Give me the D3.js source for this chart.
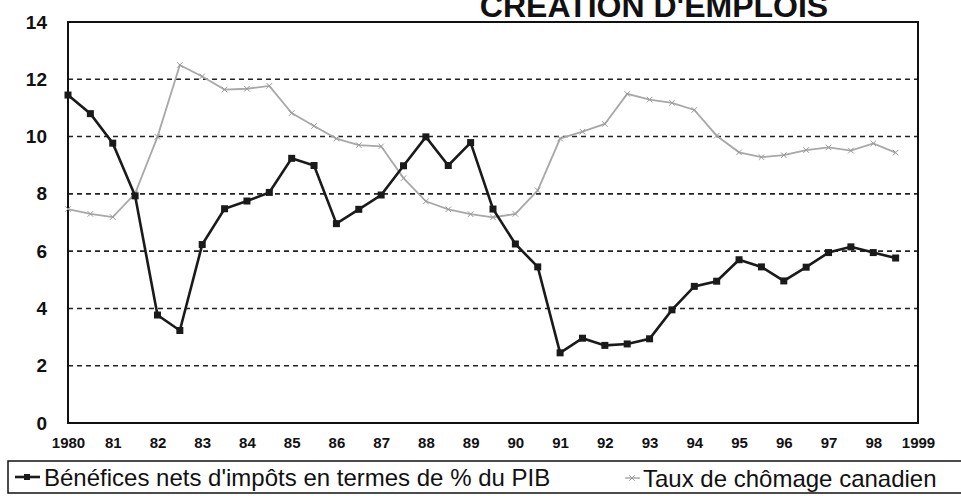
<!DOCTYPE html>
<html>
<head>
<meta charset="utf-8">
<script src="https://cdn.jsdelivr.net/npm/d3@7"></script>
<style>
  body { margin: 0; background: #fff; }
  svg { display: block; font-family: "Liberation Sans", Arial, sans-serif; }
</style>
</head>
<body>
<svg id="chart" width="961" height="496"></svg>
<script>
// half-year points, 1980 to 1998.5
const periods = d3.range(38).map(i => 1980 + i * 0.5);

const benefices = [11.45, 10.8, 9.77, 7.93, 3.77, 3.23, 6.23, 7.48, 7.75, 8.05,
                   9.24, 8.99, 6.96, 7.46, 7.96, 8.98, 9.99, 8.99, 9.79, 7.47,
                   6.25, 5.45, 2.45, 2.96, 2.71, 2.76, 2.94, 3.95, 4.77, 4.95,
                   5.7, 5.45, 4.96, 5.44, 5.95, 6.15, 5.95, 5.76];

const chomage = [7.47, 7.3, 7.19, 8.01, 9.99, 12.5, 12.1, 11.64, 11.67, 11.77,
                 10.82, 10.37, 9.93, 9.7, 9.66, 8.55, 7.74, 7.46, 7.29, 7.18,
                 7.3, 8.12, 9.93, 10.17, 10.44, 11.49, 11.29, 11.18, 10.93, 10.03,
                 9.45, 9.28, 9.35, 9.53, 9.62, 9.51, 9.76, 9.44];

const yearTicks = d3.range(1980, 2000);
const yearLabels = ["1980", "81", "82", "83", "84", "85", "86", "87", "88", "89",
                    "90", "91", "92", "93", "94", "95", "96", "97", "98", "1999"];
const yTicks = [0, 2, 4, 6, 8, 10, 12, 14];

const title = "CRÉATION D'EMPLOIS";
const legendLabels = ["Bénéfices nets d'impôts en termes de % du PIB", "Taux de chômage canadien"];

const svg = d3.select("#chart");
const plotLeft = 68, plotRight = 918, plotTop = 22, plotBottom = 423;

const x = d3.scaleLinear().domain([1980, 1999]).range([plotLeft, plotRight]);
const y = d3.scaleLinear().domain([0, 14]).range([plotBottom, plotTop]);

// title, its top is cut by the page edge like in the scan
svg.append("text")
   .attr("x", 654).attr("y", 17)
   .attr("text-anchor", "middle")
   .attr("font-size", 32).attr("font-weight", "bold")
   .attr("fill", "#111")
   .text(title);

// dashed gridlines
svg.append("g")
   .selectAll("line")
   .data(yTicks.filter(d => d > 0 && d < 14))
   .enter()
   .append("line")
   .attr("x1", plotLeft).attr("x2", plotRight)
   .attr("y1", d => y(d)).attr("y2", d => y(d))
   .attr("stroke", "#222")
   .attr("stroke-width", 1.6)
   .attr("stroke-dasharray", "5,4");

// frame
svg.append("rect")
   .attr("x", plotLeft).attr("y", plotTop)
   .attr("width", plotRight - plotLeft).attr("height", plotBottom - plotTop)
   .attr("fill", "none")
   .attr("stroke", "#111")
   .attr("stroke-width", 2);

// y axis labels
const yAxis = d3.axisLeft(y).tickValues(yTicks).tickSize(0).tickPadding(21);
svg.append("g")
   .attr("transform", `translate(${plotLeft}, 0)`)
   .call(yAxis)
   .call(g => g.select(".domain").remove())
   .call(g => g.selectAll("text")
               .attr("font-family", "'Liberation Sans', Arial, sans-serif")
               .attr("font-size", 19).attr("font-weight", "bold").attr("fill", "#111"));

// x axis labels
const xAxis = d3.axisBottom(x).tickValues(yearTicks).tickSize(0).tickPadding(14)
                .tickFormat((d, i) => yearLabels[i]);
svg.append("g")
   .attr("transform", `translate(0, ${plotBottom})`)
   .call(xAxis)
   .call(g => g.select(".domain").remove())
   .call(g => g.selectAll("text")
               .attr("font-family", "'Liberation Sans', Arial, sans-serif")
               .attr("font-size", 15).attr("font-weight", "bold").attr("fill", "#111"));

// unemployment line (grey, x markers)
const line = d3.line().x((d, i) => x(periods[i])).y(d => y(d));

svg.append("path")
   .datum(chomage)
   .attr("d", line)
   .attr("fill", "none")
   .attr("stroke", "#a8a8a8")
   .attr("stroke-width", 1.8);

const cross = d3.symbol().type(d3.symbolX).size(22);
svg.append("g")
   .selectAll("path")
   .data(chomage)
   .enter()
   .append("path")
   .attr("d", cross)
   .attr("transform", (d, i) => `translate(${x(periods[i])}, ${y(d)})`)
   .attr("fill", "none")
   .attr("stroke", "#999")
   .attr("stroke-width", 1);

// profits line (black, square markers)
svg.append("path")
   .datum(benefices)
   .attr("d", line)
   .attr("fill", "none")
   .attr("stroke", "#1a1a1a")
   .attr("stroke-width", 2.6);

svg.append("g")
   .selectAll("rect")
   .data(benefices)
   .enter()
   .append("rect")
   .attr("x", (d, i) => x(periods[i]) - 3.5)
   .attr("y", d => y(d) - 3.5)
   .attr("width", 7).attr("height", 7)
   .attr("fill", "#1a1a1a");

// legend
const legend = svg.append("g");
legend.append("rect")
      .attr("x", 8).attr("y", 461)
      .attr("width", 970).attr("height", 32)
      .attr("fill", "none")
      .attr("stroke", "#111")
      .attr("stroke-width", 1.5);

legend.append("line")
      .attr("x1", 15).attr("x2", 40).attr("y1", 477).attr("y2", 477)
      .attr("stroke", "#1a1a1a").attr("stroke-width", 2.6);
legend.append("rect")
      .attr("x", 24).attr("y", 474).attr("width", 6).attr("height", 6)
      .attr("fill", "#1a1a1a");
legend.append("text")
      .attr("x", 44).attr("y", 486)
      .attr("font-size", 24).attr("fill", "#111")
      .text(legendLabels[0]);

legend.append("line")
      .attr("x1", 625).attr("x2", 640).attr("y1", 478).attr("y2", 478)
      .attr("stroke", "#aaa").attr("stroke-width", 1.5);
legend.append("path")
      .attr("d", cross)
      .attr("transform", "translate(632, 478)")
      .attr("fill", "none").attr("stroke", "#999").attr("stroke-width", 1);
legend.append("text")
      .attr("x", 643).attr("y", 487)
      .attr("font-size", 24).attr("fill", "#111")
      .text(legendLabels[1]);
</script>
</body>
</html>
